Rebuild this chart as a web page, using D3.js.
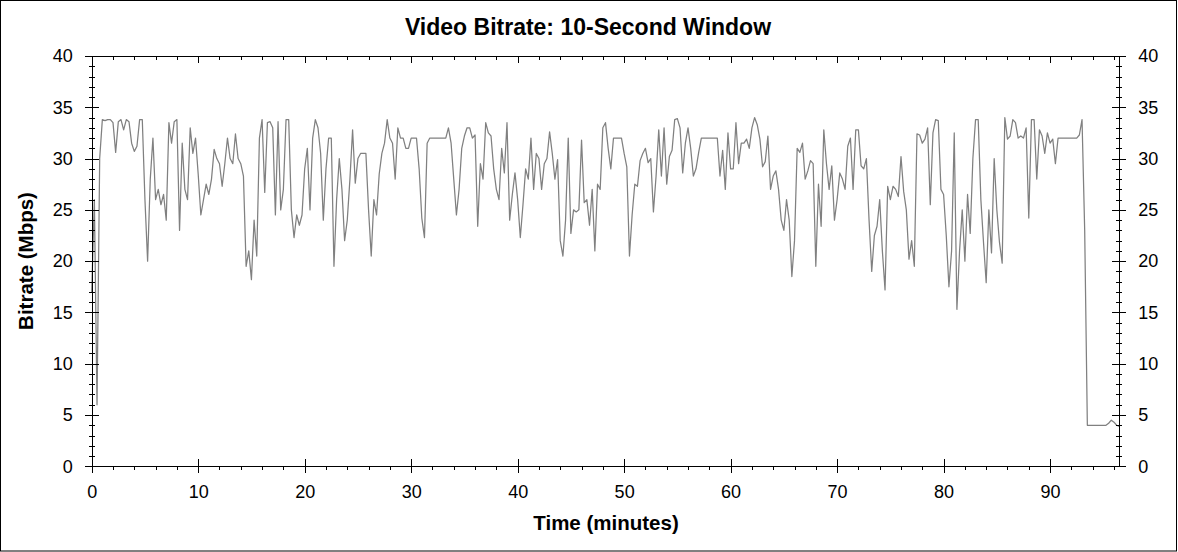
<!DOCTYPE html>
<meta charset="utf-8">
<body style="margin:0;background:#fff">
  <div id="chart"></div>

  <script src="https://d3js.org/d3.v7.min.js"></script>
  <script>
  const minuteStep = 0.25;
  const mbps = [
    17, 26, 6, 30, 33.8, 33.7, 33.8, 33.8, 33.5, 30.6,
    33.6, 33.8, 32.8, 33.8, 33.6, 31.5, 30.7, 31.2, 33.8, 33.8,
    26, 20, 28, 32, 26, 27, 25.5, 26.5, 24, 33.5,
    31.5, 33.6, 33.8, 23, 31.5, 27, 26, 33, 30.5, 32,
    28.5, 24.5, 26, 27.5, 26.5, 28, 30.9, 30, 29.5, 27.3,
    29.5, 32, 30, 29.5, 32.4, 30, 29.5, 28.3, 19.5, 21,
    18.2, 24, 20.5, 32, 33.8, 26.7, 33.5, 33.6, 33, 24.5,
    33.6, 25, 27, 33.8, 33.8, 25, 22.3, 24.5, 23.5, 24.5,
    29, 31, 25, 32, 33.8, 33, 30.5, 24, 29, 32,
    32, 19.5, 26, 30, 27, 22, 24, 28, 32.8, 27.6,
    30, 30.5, 30.5, 30.5, 25, 20.5, 26, 24.5, 28.5, 30.5,
    31.5, 33.8, 32, 31.5, 28, 33, 32, 32, 31, 31,
    32, 32, 32, 29, 24.2, 22.3, 31.5, 32, 32, 32,
    32, 32, 32, 32, 33, 31.5, 28, 24.5, 27, 31,
    32.2, 33, 33, 32, 32.3, 23.4, 29.5, 28, 33.5, 32.5,
    32.2, 29, 27, 26, 31, 28.6, 33.5, 24, 26.5, 28.6,
    26, 22.3, 25.5, 29, 28, 32, 27, 30.5, 30, 27,
    29.5, 30, 32.6, 30.5, 28, 29.9, 22, 20.5, 24, 32,
    22.7, 25, 24.8, 25, 31.8, 25.7, 26, 23.5, 27, 21,
    27.5, 27, 33, 33.5, 31, 29, 32, 32, 32, 32,
    30.5, 29.2, 20.5, 24.5, 27.5, 27.3, 29.8, 30.5, 31, 29.6,
    30, 24.8, 28.3, 32.8, 28.3, 33, 27.5, 30.2, 30.8, 33.8,
    33.9, 33, 28.6, 31.5, 33, 31, 28.3, 29, 30.6, 32,
    32, 32, 32, 32, 32, 32, 28.3, 30.8, 27, 32.5,
    29, 29, 33.5, 29.5, 31.5, 31.5, 31.9, 31, 33, 34,
    33.3, 31.9, 29.2, 29.7, 32.2, 27, 28.3, 28.8, 27, 24,
    23, 26, 24, 18.5, 22, 31, 30.6, 31.5, 28, 28.8,
    29.8, 29.5, 19.5, 27.5, 23.4, 32.8, 29.5, 27, 29.3, 24,
    26, 28.6, 28, 27, 31.2, 32, 27, 32.8, 32.8, 29.3,
    29, 30, 24, 19, 22.5, 23.4, 26, 21, 17.2, 27.3,
    26, 27.3, 27, 26.3, 30.2, 26.8, 25, 20.2, 22, 19.5,
    32.4, 32.3, 31.5, 31.9, 33, 25.5, 32.5, 33.8, 33.7, 27,
    26.5, 22.5, 17.5, 21, 32.5, 15.3, 21, 25, 20, 26.5,
    22.7, 30, 33.8, 33.8, 26, 21.8, 17.9, 25, 20.8, 30,
    25, 21.8, 19.8, 34, 31.9, 32.2, 33.8, 33.5, 32, 32.2,
    32, 33, 24.2, 33.8, 33.8, 28, 32.8, 32.2, 30.5, 32.5,
    31.5, 31.9, 29.5, 32, 32, 32, 32, 32, 32, 32,
    32, 32.3, 33.8, 23, 4, 4, 4, 4, 4, 4,
    4, 4, 4.2, 4.5, 4.3, 4, 3.9
  ];

  const xMajorTicks = [0, 10, 20, 30, 40, 50, 60, 70, 80, 90];
  const yMajorTicks = [0, 5, 10, 15, 20, 25, 30, 35, 40];
  const xMinorTicks = d3.range(2, 97, 2).filter(v => v % 10 !== 0);
  const yMinorTicks = d3.range(1, 40).filter(v => v % 5 !== 0);

  const titleText = "Video Bitrate: 10-Second Window";
  const xLabel = "Time (minutes)";
  const yLabel = "Bitrate (Mbps)";

  // ——— layout ———
  const W = 1178, H = 552;
  const font = "'Liberation Sans', Arial, sans-serif";

  const x = d3.scaleLinear().domain([0, 96.5]).range([91.7, 1119.3]);
  const y = d3.scaleLinear().domain([0, 40]).range([466.3, 56]);

  const svg = d3.select("#chart").append("svg")
      .attr("width", W)
      .attr("height", H)
      .style("display", "block");

  svg.append("rect")
      .attr("x", 0.5).attr("y", 0.5)
      .attr("width", W - 2).attr("height", H - 1.5)
      .attr("fill", "#fff")
      .attr("stroke", "#000");

  // ——— the bitrate trace ———
  const line = d3.line()
      .x((d, i) => x(i * minuteStep))
      .y(d => y(d));

  svg.append("path")
      .datum(mbps)
      .attr("fill", "none")
      .attr("stroke", "#808080")
      .attr("stroke-width", 1.25)
      .attr("stroke-linejoin", "round")
      .attr("d", line);

  // ——— axes ———
  function style(g) {
    g.attr("font-family", font).attr("font-size", 18);
    g.selectAll("text").attr("fill", "#000");
    g.selectAll("line, path").attr("stroke", "#000").attr("shape-rendering", "crispEdges");
  }

  // bottom
  svg.append("g")
      .attr("transform", `translate(0,${y(0)})`)
      .call(d3.axisBottom(x).tickValues(xMajorTicks).tickSize(7).tickSizeOuter(0).tickPadding(12))
      .call(g => g.selectAll(".tick line").attr("y1", -7))
      .call(style);
  svg.append("g")
      .attr("transform", `translate(0,${y(0)})`)
      .call(d3.axisBottom(x).tickValues(xMinorTicks).tickSize(4).tickFormat(""))
      .call(g => g.select(".domain").remove())
      .call(style);

  // top (ticks point inward, no labels)
  svg.append("g")
      .attr("transform", `translate(0,${y(40)})`)
      .call(d3.axisTop(x).tickValues(xMajorTicks).tickSize(-7).tickSizeOuter(0).tickFormat(""))
      .call(style);
  svg.append("g")
      .attr("transform", `translate(0,${y(40)})`)
      .call(d3.axisTop(x).tickValues(xMinorTicks).tickSize(-4).tickFormat(""))
      .call(g => g.select(".domain").remove())
      .call(style);

  // left
  svg.append("g")
      .attr("transform", `translate(${x(0)},0)`)
      .call(d3.axisLeft(y).tickValues(yMajorTicks).tickSize(7).tickSizeOuter(0).tickPadding(12))
      .call(g => g.selectAll(".tick line").attr("x1", 7))
      .call(style);
  svg.append("g")
      .attr("transform", `translate(${x(0)},0)`)
      .call(d3.axisLeft(y).tickValues(yMinorTicks).tickSize(3).tickFormat(""))
      .call(g => g.selectAll(".tick line").attr("x1", 3))
      .call(g => g.select(".domain").remove())
      .call(style);

  // right
  svg.append("g")
      .attr("transform", `translate(${x(96.5)},0)`)
      .call(d3.axisRight(y).tickValues(yMajorTicks).tickSize(7).tickSizeOuter(0).tickPadding(12))
      .call(g => g.selectAll(".tick line").attr("x1", -7))
      .call(style);
  svg.append("g")
      .attr("transform", `translate(${x(96.5)},0)`)
      .call(d3.axisRight(y).tickValues(yMinorTicks).tickSize(3).tickFormat(""))
      .call(g => g.selectAll(".tick line").attr("x1", -3))
      .call(g => g.select(".domain").remove())
      .call(style);

  // ——— titles ———
  svg.append("text")
      .attr("x", 588).attr("y", 35)
      .attr("text-anchor", "middle")
      .attr("font-family", font).attr("font-weight", "bold").attr("font-size", 23)
      .text(titleText);

  svg.append("text")
      .attr("x", 606).attr("y", 530)
      .attr("text-anchor", "middle")
      .attr("font-family", font).attr("font-weight", "bold").attr("font-size", 20.5)
      .text(xLabel);

  svg.append("text")
      .attr("transform", "translate(33,261) rotate(-90)")
      .attr("text-anchor", "middle")
      .attr("font-family", font).attr("font-weight", "bold").attr("font-size", 20.5)
      .text(yLabel);
  </script>
</body>
